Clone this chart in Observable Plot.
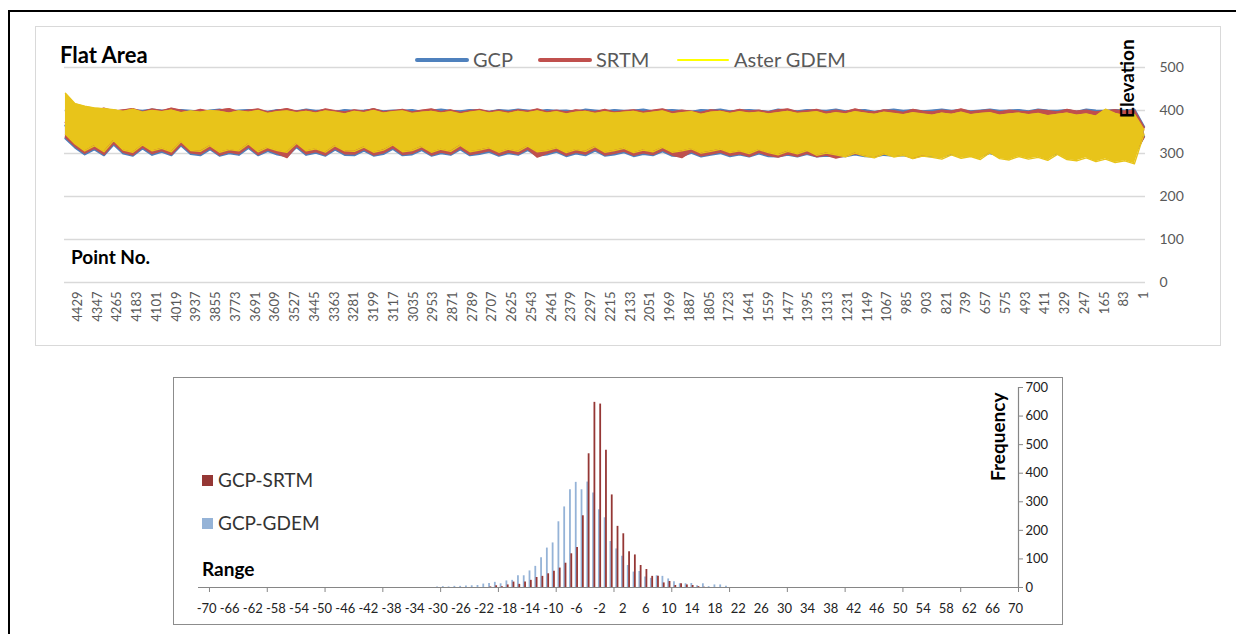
<!DOCTYPE html>
<html>
<head>
<meta charset="utf-8">
<script src="https://cdn.jsdelivr.net/npm/d3@7"></script>
<script src="https://cdn.jsdelivr.net/npm/@observablehq/plot@0.6"></script>
<style>
  html, body { margin: 0; padding: 0; background: #fff; }
  #root { position: relative; width: 1236px; height: 634px; overflow: hidden; font-family: Lato, sans-serif; }
  .abs { position: absolute; white-space: nowrap; }
  #frame { left: 8px; top: 10px; width: 1300px; height: 700px; border: 2px solid #000; box-sizing: border-box; }
  #box1 { left: 35px; top: 26px; width: 1186px; height: 320px; border: 1.5px solid #d9d9d9; box-sizing: border-box; }
  #box2 { left: 173px; top: 377px; width: 890px; height: 248px; border: 1px solid #8c8c8c; box-sizing: border-box; }
  .bold { font-weight: 700; color: #000; }
  .leg { color: #595959; font-size: 20px; line-height: 20px; }
  .leg2 { color: #333; font-size: 19px; line-height: 19px; }
  .rot { transform-origin: left top; transform: rotate(-90deg); }
</style>
</head>
<body>
<div id="root">
  <div id="frame" class="abs"></div>
  <div id="box1" class="abs"></div>
  <div id="box2" class="abs"></div>
</div>
<script>
// ---------- Top chart data (Flat Area elevations, envelope) ----------
const pointLabels = [4429,4347,4265,4183,4101,4019,3937,3855,3773,3691,3609,3527,3445,3363,3281,3199,3117,3035,2953,2871,2789,2707,2625,2543,2461,2379,2297,2215,2133,2051,1969,1887,1805,1723,1641,1559,1477,1395,1313,1231,1149,1067,985,903,821,739,657,575,493,411,329,247,165,83,1];
const elevTicks = [0, 100, 200, 300, 400, 500];
const pointNos = d3.range(4480, -1, -40); // sample point numbers, left to right

const gcpHi = [365,399,401,398,402,400,397,401,399,402,
 400,398,401,399,397,400,402,398,400,401,
 399,397,401,400,398,402,399,400,397,401,
 399,400,402,398,400,399,401,397,400,402,
 399,398,401,400,397,401,399,402,400,398,
 401,399,400,397,402,400,398,401,399,400,
 402,398,400,401,399,397,401,400,402,398,
 400,401,399,397,402,400,398,401,400,399,
 402,398,400,401,397,400,402,399,401,398,
 400,402,399,401,398,400,402,399,400,401,
 398,402,400,399,401,397,402,400,399,401,
 400,402,362];
const gcpLo = [335,314,298,310,296,321,300,295,312,297,
 304,296,319,299,296,310,295,301,297,313,
 296,306,298,294,315,297,302,295,309,297,
 296,307,295,299,311,296,298,308,295,301,
 297,310,296,299,304,295,301,297,308,295,
 298,304,294,300,296,307,295,298,303,294,
 299,296,305,295,294,302,293,297,301,294,
 298,293,300,294,293,297,293,299,293,295,
 293,294,298,294,293,297,295,296,292,295,
 294,293,299,295,296,294,301,295,294,298,
 295,297,294,300,296,295,298,294,296,297,
 295,298,340];
const srtmHi = [372,404,403,399,405,398,401,404,397,403,
 399,405,400,396,402,398,401,404,397,400,
 403,396,400,404,398,401,397,403,399,396,
 401,398,404,397,399,402,396,400,403,397,
 401,395,399,402,397,400,396,401,398,403,
 397,400,396,401,399,397,402,396,399,401,
 397,400,403,396,400,398,395,401,399,397,
 402,398,400,396,401,403,397,399,402,396,
 400,397,403,398,396,401,399,395,402,398,
 396,400,398,403,397,399,401,396,400,398,
 397,401,399,396,402,398,400,396,399,401,
 398,400,360];
const srtmLo = [338,317,301,313,298,324,303,297,315,300,
 307,298,322,302,299,313,297,304,300,316,
 298,309,301,291,318,300,305,297,312,300,
 299,310,297,302,314,298,301,311,297,304,
 299,313,298,302,307,297,304,299,311,292,
 301,307,296,303,299,310,297,301,306,296,
 302,298,308,297,291,305,295,299,304,296,
 300,294,303,296,292,299,294,301,293,297,
 290,295,300,296,294,299,297,298,289,297,
 296,295,301,297,298,296,303,297,296,300,
 297,299,296,302,298,297,300,296,298,299,
 297,300,338];
const asterHi = [440,416,410,406,404,402,398,403,396,400,
 397,401,395,399,396,400,398,394,399,396,
 400,393,397,399,395,398,394,399,396,392,
 398,395,400,394,397,399,393,396,398,394,
 397,392,396,399,394,397,393,398,395,399,
 394,397,392,396,398,393,397,394,396,398,
 393,396,399,392,395,397,391,396,398,393,
 397,394,396,392,395,398,393,395,397,391,
 395,392,397,394,391,396,393,390,395,392,
 389,394,391,396,390,393,395,389,392,394,
 390,393,388,391,394,389,392,387,403,393,
 388,391,355];
const asterLo = [345,322,306,318,304,330,308,303,320,306,
 312,304,328,307,305,318,303,309,306,322,
 304,314,307,303,324,306,311,303,318,306,
 305,315,303,308,320,304,307,316,303,310,
 305,319,304,308,313,303,310,305,317,304,
 307,313,302,309,305,316,303,307,312,302,
 308,304,314,303,306,311,301,305,310,302,
 306,300,309,302,297,305,299,307,296,301,
 297,292,301,294,290,299,292,296,288,294,
 291,287,297,289,293,286,302,288,285,293,
 287,291,284,298,286,283,290,281,287,279,
 283,276,345];

// ---------- Bottom chart data (difference histogram) ----------
const rangeLabels = [-70,-66,-62,-58,-54,-50,-46,-42,-38,-34,-30,-26,-22,-18,-14,-10,-6,-2,2,6,10,14,18,22,26,30,34,38,42,46,50,54,58,62,66,70];
const freqTicks = [0, 100, 200, 300, 400, 500, 600, 700];
const binValues = d3.range(-30, 21); // -30 .. 20
const gcpGdemFreq = [2,3,2,4,4,5,6,7,12,14,
 18,13,23,25,41,41,58,74,104,138,
 156,230,282,342,368,342,369,331,272,244,
 161,135,109,77,54,56,37,32,41,39,
 30,20,13,13,14,6,13,3,9,9,4];
const gcpSrtmFreq = [0,0,0,0,0,0,0,0,0,2,
 6,3,9,19,11,19,25,35,39,48,
 57,68,85,118,140,251,468,648,642,480,
 324,214,188,125,114,77,63,39,39,16,
 21,7,13,9,7,3,1,0,0,0,0];

const colBlue = "#4F81BD", colRed = "#C0504D", colYellow = "#FFFF00", colGold = "#E8C41A";
const colBarRed = "#953735", colBarBlue = "#95B3D7";

const root = document.getElementById("root");

function series(hi, lo) { return pointNos.map((p, i) => ({p, hi: hi[i], lo: lo[i]})); }
function bandMarks(data, fill, w) {
  return [
    Plot.areaY(data, {x: "p", y1: "lo", y2: "hi", fill, curve: "linear"}),
    Plot.lineY(data, {x: "p", y: "hi", stroke: fill, strokeWidth: w}),
    Plot.lineY(data, {x: "p", y: "lo", stroke: fill, strokeWidth: w})
  ];
}

const topChart = Plot.plot({
  width: 1186, height: 320,
  marginLeft: 29, marginRight: 76, marginTop: 41, marginBottom: 64,
  x: {domain: [4484, -6], axis: null},
  y: {domain: [0, 500], axis: null},
  style: {background: "transparent", fontFamily: "Lato, sans-serif", overflow: "visible"},
  marks: [
    Plot.ruleY(elevTicks, {stroke: "#d9d9d9", strokeWidth: 1.4}),
    ...bandMarks(series(gcpHi, gcpLo), colBlue, 2.2),
    ...bandMarks(series(srtmHi, srtmLo), colRed, 1.8),
    ...bandMarks(series(asterHi, asterLo), colGold, 1.4),
    Plot.axisY({anchor: "right", ticks: elevTicks, tickSize: 0, tickPadding: 14, fontSize: 14,
      fill: "#595959", tickFormat: d => String(d), label: null}),
    Plot.axisX({ticks: pointLabels, tickSize: 0, tickPadding: 9, tickRotate: -90, fontSize: 13,
      fill: "#595959", tickFormat: d => String(d), label: null})
  ]
});
topChart.style.position = "absolute";
topChart.style.left = "35px";
topChart.style.top = "26px";
root.append(topChart);

const gdemData = binValues.map((c, i) => ({c, v: gcpGdemFreq[i]})).filter(d => d.v > 0);
const srtmData = binValues.map((c, i) => ({c, v: gcpSrtmFreq[i]})).filter(d => d.v > 0);
const xTickMarks = d3.range(-69.5, 71, 10);

const botChart = Plot.plot({
  width: 890, height: 248,
  marginLeft: 25, marginRight: 45, marginTop: 10, marginBottom: 38,
  x: {domain: [-71.4, 70.5], axis: null},
  y: {domain: [0, 700], axis: null},
  style: {background: "transparent", fontFamily: "Lato, sans-serif", overflow: "visible"},
  marks: [
    Plot.ruleX(gdemData, {x: d => d.c - 0.12, y1: () => 0, y2: "v", stroke: colBarBlue, strokeWidth: 1.8}),
    Plot.ruleX(srtmData, {x: d => d.c + 0.11, y1: () => 0, y2: "v", stroke: colBarRed, strokeWidth: 1.8}),
    Plot.ruleY([0], {stroke: "#868686", strokeWidth: 1.2}),
    Plot.ruleX([70.5], {stroke: "#868686", strokeWidth: 1.2}),
    Plot.axisX({ticks: xTickMarks, tickSize: 5, tickFormat: () => "", stroke: "#868686", label: null}),
    Plot.axisX({ticks: rangeLabels, tickSize: 0, tickPadding: 16, fontSize: 13, fill: "#222",
      tickFormat: d => String(d), label: null}),
    Plot.axisY({anchor: "right", ticks: freqTicks, tickSize: 4, tickPadding: 3, fontSize: 13,
      stroke: "#868686", fill: "#222", tickFormat: d => String(d), label: null})
  ]
});
botChart.style.position = "absolute";
botChart.style.left = "173px";
botChart.style.top = "377px";
root.append(botChart);

// ---------- Text & legends ----------
function addDiv(cls, text, css) {
  const d = document.createElement("div");
  d.className = "abs " + cls;
  d.textContent = text;
  Object.assign(d.style, css);
  root.append(d);
  return d;
}
addDiv("bold", "Flat Area", {left: "60px", top: "44px", fontSize: "22px", lineHeight: "22px"});
addDiv("bold", "Point No.", {left: "71px", top: "247px", fontSize: "19px", lineHeight: "19px"});
addDiv("bold rot", "Elevation", {left: "1117px", top: "118px", fontSize: "19px", lineHeight: "19px"});

const legendTop = [
  {name: "GCP", color: colBlue, lx: 415, lw: 54, th: 4.5, tx: 473},
  {name: "SRTM", color: colRed, lx: 538, lw: 54, th: 4.5, tx: 596},
  {name: "Aster GDEM", color: colYellow, lx: 677, lw: 52, th: 2.5, tx: 734}
];
for (const l of legendTop) {
  addDiv("", "", {left: l.lx + "px", top: (60 - l.th / 2) + "px", width: l.lw + "px", height: l.th + "px",
    background: l.color, borderRadius: "3px"});
  addDiv("leg", l.name, {left: l.tx + "px", top: "48.5px"});
}

const legendBot = [
  {name: "GCP-SRTM", color: colBarRed, y: 480},
  {name: "GCP-GDEM", color: colBarBlue, y: 523}
];
for (const l of legendBot) {
  addDiv("", "", {left: "202px", top: (l.y - 5.5) + "px", width: "11px", height: "11px", background: l.color});
  addDiv("leg2", l.name, {left: "218px", top: (l.y - 10) + "px"});
}
addDiv("bold", "Range", {left: "202px", top: "559px", fontSize: "19px", lineHeight: "19px"});
addDiv("bold rot", "Frequency", {left: "988px", top: "481px", fontSize: "19px", lineHeight: "19px"});
</script>
</body>
</html>
